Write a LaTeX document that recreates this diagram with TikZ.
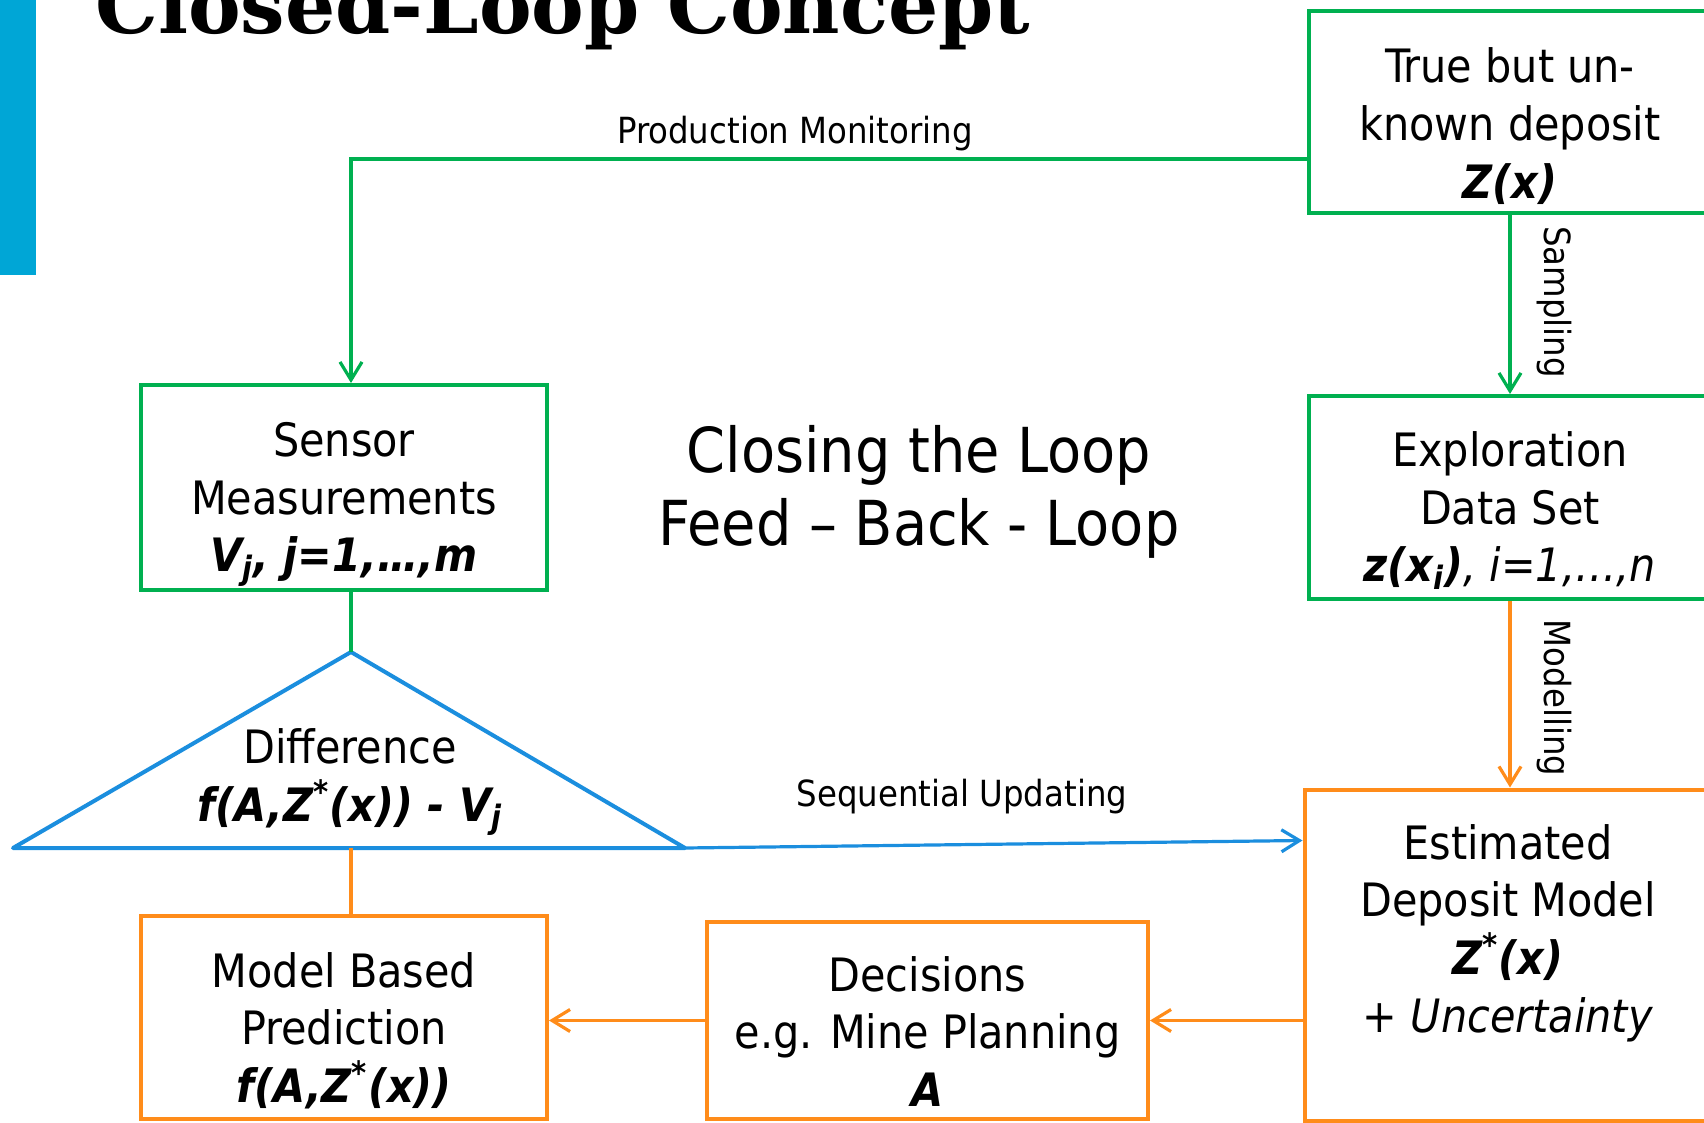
\documentclass[tikz,border=0pt]{standalone}
\usepackage{fontspec}
\setmainfont{DejaVu Sans Condensed}
\newfontfamily\titlefont{DejaVu Serif}
\usetikzlibrary{arrows.meta,calc}
\definecolor{barblue}{RGB}{0,166,214}
\definecolor{loopgreen}{RGB}{0,176,80}
\definecolor{looporange}{RGB}{255,140,26}
\definecolor{loopblue}{RGB}{27,142,222}
\newcommand{\bi}[1]{\textbf{\textit{#1}}}
\tikzset{
  box/.style={draw, line width=2pt, inner sep=0pt},
  txt/.style={inner sep=0pt, align=center, font=\fontsize{23}{28.8}\selectfont},
  lbl/.style={inner sep=0pt, font=\fontsize{18}{21.6}\selectfont},
  flow/.style={line width=1.6pt, -{Straight Barb[length=9pt,width=11pt]}},
  link/.style={line width=1.6pt},
}
\begin{document}
\begin{tikzpicture}[x=0.5pt,y=-0.5pt]
\useasboundingbox (0,0) rectangle (1704,1123);
\clip (0,0) rectangle (1704,1123);
\fill[barblue] (0,0) rectangle (36,275);
\node[anchor=base west,inner sep=0pt,font=\titlefont\bfseries\fontsize{39.5}{41}\selectfont] (title) at (95,34) {Closed-Loop Concept};

\node[box,draw=loopgreen,minimum width=201pt,minimum height=101pt] (deposit) at (1510,112) {};
\node[box,draw=loopgreen,minimum width=201pt,minimum height=101.5pt] (explor) at (1510,497.5) {};
\node[box,draw=looporange,minimum width=203.5pt,minimum height=165.5pt] (estim) at (1508,955) {};
\node[box,draw=loopgreen,minimum width=203pt,minimum height=102.5pt] (sensor) at (344,487.5) {};
\node[box,draw=looporange,minimum width=203pt,minimum height=101.5pt] (model) at (344,1017.5) {};
\node[box,draw=looporange,minimum width=220.5pt,minimum height=98.5pt] (decide) at (927.5,1020.5) {};

\node[txt] (depositText) at (1510,126) {True but un-\\known deposit\\\bi{Z(x)}};
\node[txt] (explorText) at (1510,510.5) {Exploration\\Data Set\\\bi{z(x\textsubscript{i})}\textit{, i=1,…,n}};
\node[txt] (estimText) at (1508,933) {Estimated\\Deposit Model\\\bi{Z\textsuperscript{*}(x)}\\\textit{+ Uncertainty}};
\node[txt] (sensorText) at (344,504.5) {Sensor\\Measurements\\\bi{V\textsubscript{j}, j=1,…,m}};
\node[txt] (modelText) at (344,1030.5) {Model Based\\Prediction\\\bi{f(A,Z\textsuperscript{*}(x))}};
\node[txt] (decideText) at (927.5,1031.5) {Decisions\\e.g. Mine Planning\\\bi{A}};

\coordinate (diffTop) at (351,652);
\coordinate (diffL) at (13,848);
\coordinate (diffR) at (685,848);
\coordinate (diffBase) at (351,848);
\draw[loopblue,line width=2pt,line join=round] (diffTop) -- (diffL) -- (diffR) -- cycle;
\node[txt] (diff) at (350,782) {Difference\\\bi{f(A,Z\textsuperscript{*}(x)) - V\textsubscript{j}}};

\node[align=center,font=\fontsize{31}{36.5}\selectfont] (closing) at (919,492) {Closing the Loop\\Feed – Back - Loop};

\coordinate (pmStart) at ($(deposit.north west)+(0,150)$);
\draw[flow,loopgreen] (pmStart) -| (sensor.north -| diffTop);
\draw[flow,loopgreen] (deposit.south) -- (explor.north);
\draw[flow,looporange] (explor.south) -- (explor.south |- estim.north);
\draw[link,loopgreen] (sensor.south -| diffTop) -- (diffTop);
\draw[link,looporange] (diffBase) -- (model.north -| diffBase);
\draw[flow,loopblue] (diffR) -- ($(estim.north west)+(0,53)$);
\draw[flow,looporange] (decide.east -| estim.west) -- (decide.east);
\draw[flow,looporange] (decide.west) -- (decide.west -| model.east);

\node[lbl,anchor=base] (pmLabel) at (795,144) {Production Monitoring};
\node[lbl,anchor=base] (suLabel) at (962,806) {Sequential Updating};
\node[lbl,rotate=-90] (sampLabel) at (1554,302) {Sampling};
\node[lbl,rotate=-90] (modLabel) at (1554,698) {Modelling};
\end{tikzpicture}
\end{document}
